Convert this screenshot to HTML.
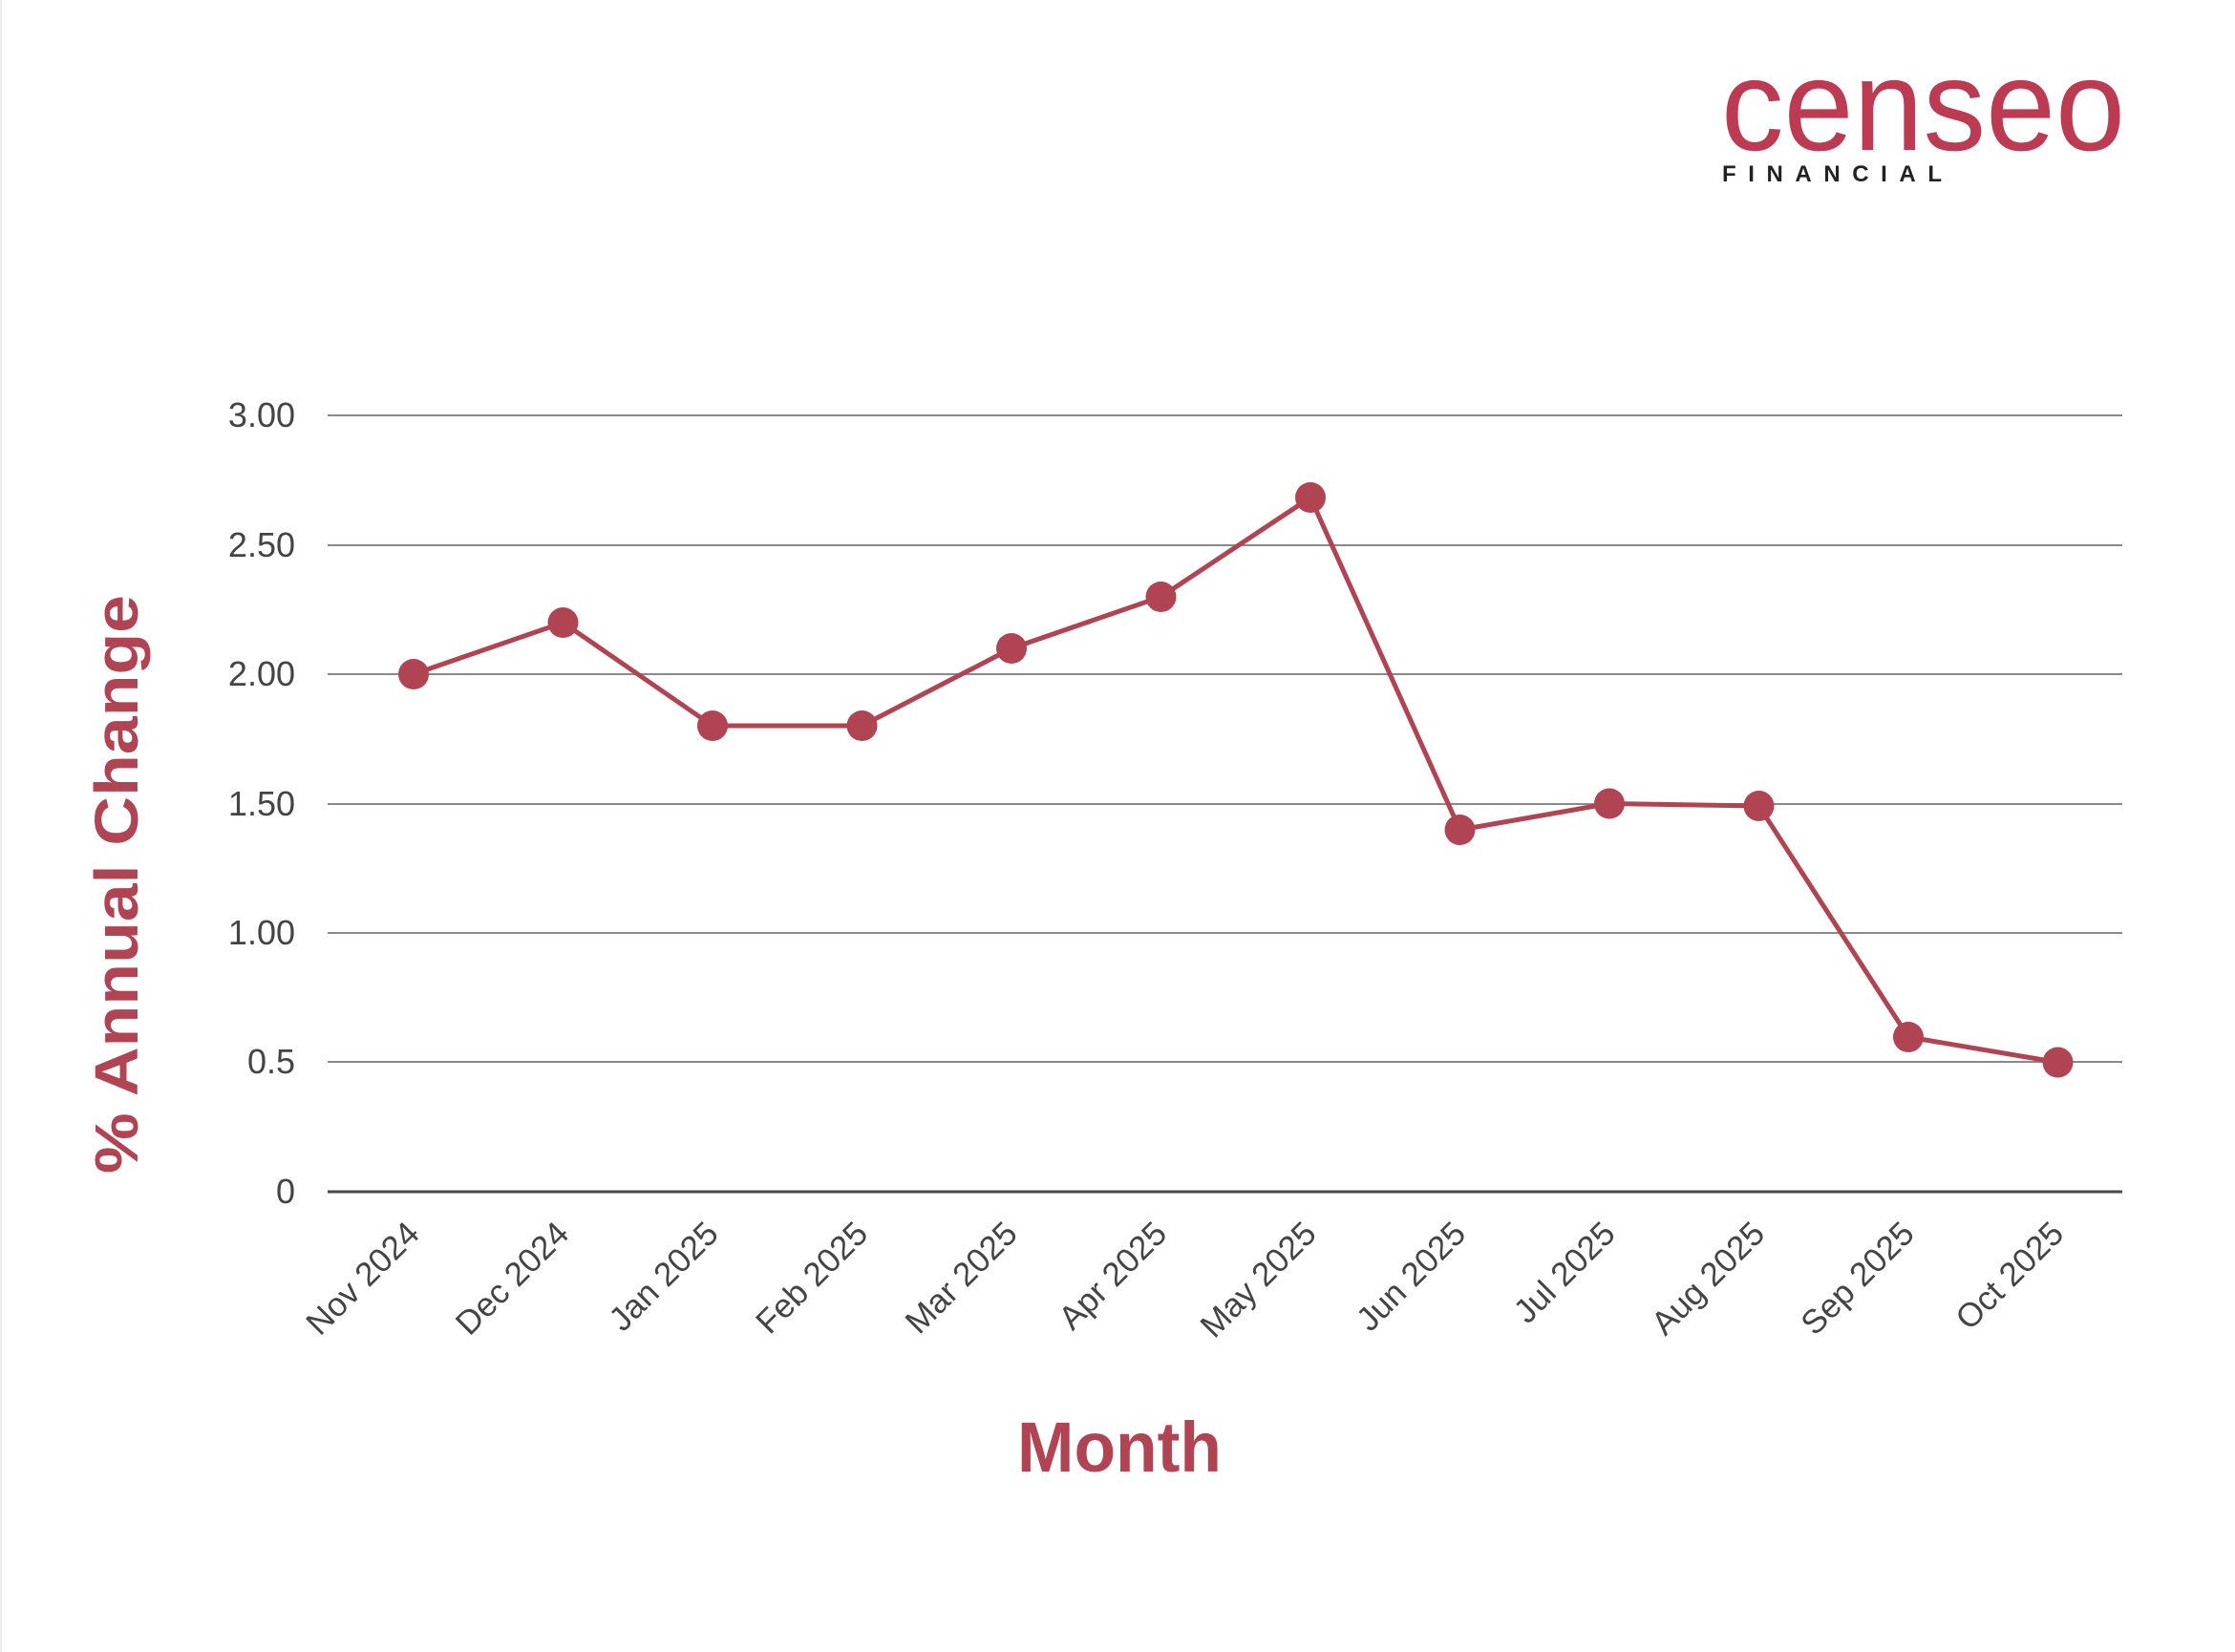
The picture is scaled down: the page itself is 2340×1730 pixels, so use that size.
<!DOCTYPE html>
<html><head><meta charset="utf-8"><style>
html,body{margin:0;padding:0;background:#fff;}
svg{display:block;}
</style></head><body>
<svg width="2340" height="1730" viewBox="0 0 2340 1730" xmlns="http://www.w3.org/2000/svg" font-family="Liberation Sans, sans-serif">
<rect width="2340" height="1730" fill="#fff"/>
<rect x="0" y="0" width="2" height="1730" fill="#ececec"/>
<text x="1802" y="157" font-size="136" fill="#bd3b52" textLength="423" lengthAdjust="spacingAndGlyphs">censeo</text>
<text x="1803" y="190" font-size="24" font-weight="bold" fill="#222" textLength="230" lengthAdjust="spacing">FINANCIAL</text>
<g stroke="#8a8a8a" stroke-width="2">
<line x1="343" y1="435" x2="2222" y2="435"/>
<line x1="343" y1="571" x2="2222" y2="571"/>
<line x1="343" y1="706" x2="2222" y2="706"/>
<line x1="343" y1="842" x2="2222" y2="842"/>
<line x1="343" y1="977" x2="2222" y2="977"/>
<line x1="343" y1="1112" x2="2222" y2="1112"/>
</g>
<line x1="343" y1="1248" x2="2222" y2="1248" stroke="#4a4a4a" stroke-width="3"/>
<g font-size="36" fill="#444" text-anchor="end">
<text x="309" y="447">3.00</text>
<text x="309" y="583">2.50</text>
<text x="309" y="718">2.00</text>
<text x="309" y="854">1.50</text>
<text x="309" y="989">1.00</text>
<text x="309" y="1124">0.5</text>
<text x="309" y="1260">0</text>
</g>
<g font-size="35" fill="#444" text-anchor="end">
<text transform="translate(441,1294) rotate(-45)">Nov 2024</text>
<text transform="translate(597.5,1294) rotate(-45)">Dec 2024</text>
<text transform="translate(754,1294) rotate(-45)">Jan 2025</text>
<text transform="translate(910.5,1294) rotate(-45)">Feb 2025</text>
<text transform="translate(1067,1294) rotate(-45)">Mar 2025</text>
<text transform="translate(1223.5,1294) rotate(-45)">Apr 2025</text>
<text transform="translate(1380,1294) rotate(-45)">May 2025</text>
<text transform="translate(1536.5,1294) rotate(-45)">Jun 2025</text>
<text transform="translate(1693,1294) rotate(-45)">Jul 2025</text>
<text transform="translate(1849.5,1294) rotate(-45)">Aug 2025</text>
<text transform="translate(2006,1294) rotate(-45)">Sep 2025</text>
<text transform="translate(2162.5,1294) rotate(-45)">Oct 2025</text>
</g>
<polyline fill="none" stroke="#b04453" stroke-width="5" stroke-linejoin="round" points="433,706 589.5,652 746,760 902.5,760 1059,679 1215.5,625 1372,521 1528.5,869 1685,841.5 1841.5,844 1998,1086 2154.5,1112.5"/>
<g fill="#b04453">
<circle cx="433" cy="706" r="16"/>
<circle cx="589.5" cy="652" r="16"/>
<circle cx="746" cy="760" r="16"/>
<circle cx="902.5" cy="760" r="16"/>
<circle cx="1059" cy="679" r="16"/>
<circle cx="1215.5" cy="625" r="16"/>
<circle cx="1372" cy="521" r="16"/>
<circle cx="1528.5" cy="869" r="16"/>
<circle cx="1685" cy="841.5" r="16"/>
<circle cx="1841.5" cy="844" r="16"/>
<circle cx="1998" cy="1086" r="16"/>
<circle cx="2154.5" cy="1112.5" r="16"/>
</g>
<text transform="translate(144,926) rotate(-90)" font-size="64" font-weight="bold" fill="#b04453" text-anchor="middle" textLength="606" lengthAdjust="spacingAndGlyphs">% Annual Change</text>
<text x="1065" y="1541" font-size="74" font-weight="bold" fill="#b04453" textLength="214" lengthAdjust="spacingAndGlyphs">Month</text>
</svg>
</body></html>
